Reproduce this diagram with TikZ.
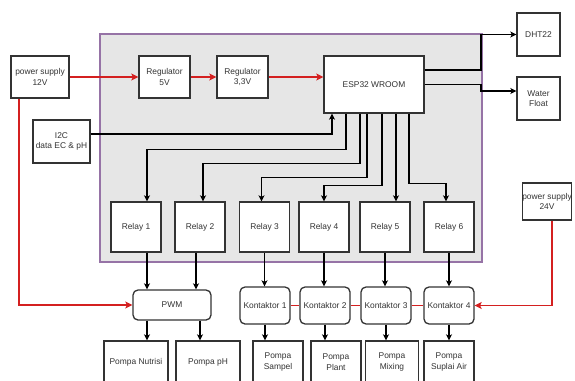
\documentclass[tikz,border=0pt]{standalone}
\usepackage{fontspec}
\setmainfont{Liberation Sans}
\usetikzlibrary{arrows.meta}
\definecolor{boxline}{HTML}{333333}
\definecolor{txt}{HTML}{333333}
\definecolor{pline}{HTML}{9673A6}
\definecolor{pfill}{HTML}{E6E6E6}
\definecolor{rline}{HTML}{D42020}
\begin{document}
\begin{tikzpicture}[x=1pt,y=-1pt,
  box/.style={draw=boxline,line width=1.3pt,fill=white,text=txt,inner sep=0pt,align=center,font=\fontsize{8.4}{10.3}\selectfont},
  rbox/.style={box,rounded corners=5pt},
  arr/.style={draw=black,line width=1.2pt,-{Stealth[length=6pt,width=6pt,inset=1.5pt]}},
  rarr/.style={draw=rline,line width=1.6pt,-{Stealth[length=7pt,width=7pt,inset=1.5pt]}},
  rline/.style={draw=rline,line width=1.6pt}]
\path[use as bounding box] (0,0) rectangle (575,380);
\clip (0,0) rectangle (575,380);
\fill[white] (0,0) rectangle (575,380);
% container
\node[draw=pline,fill=pfill,line width=2.2pt,minimum width=382pt,minimum height=228pt,inner sep=0pt] (ctrl) at (291,148) {};
% nodes
\node[box,minimum width=58pt,minimum height=42pt] (ps12) at (40,77) {power supply\\12V};
\node[box,minimum width=51pt,minimum height=42pt] (reg5) at (164.5,77) {Regulator\\5V};
\node[box,minimum width=51pt,minimum height=42pt] (reg33) at (242.5,77) {Regulator\\3,3V};
\node[box,minimum width=100pt,minimum height=57pt] (esp) at (374,84.5) {ESP32 WROOM};
\node[box,minimum width=43pt,minimum height=43pt] (dht) at (538.5,34.5) {DHT22};
\node[box,minimum width=43pt,minimum height=43pt] (wf) at (538.5,98.5) {Water\\Float};
\node[box,minimum width=57pt,minimum height=43pt] (i2c) at (61.5,141.5) {I2C\\data EC \& pH};
\node[box,minimum width=48pt,minimum height=37pt] (ps24) at (547,201.5) {power supply\\24V};
\foreach \n/\x in {1/136,2/200,3/264.5,4/324,5/385,6/449}
  \node[box,minimum width=50pt,minimum height=50pt] (relay\n) at (\x,227) {Relay \n};
\node[rbox,minimum width=78pt,minimum height=30pt] (pwm) at (172,305) {PWM};
\foreach \n/\x in {1/265,2/325,3/386,4/449}
  \node[rbox,minimum width=50pt,minimum height=37pt] (k\n) at (\x,305.5) {Kontaktor \n};
\node[box,minimum width=64pt,minimum height=42pt] (pn) at (136,362) {Pompa Nutrisi};
\node[box,minimum width=64pt,minimum height=42pt] (pph) at (208,362) {Pompa pH};
\node[box,minimum width=50pt,minimum height=42pt] (psa) at (278,362) {Pompa\\Sampel};
\node[box,minimum width=50pt,minimum height=42pt] (ppl) at (336,362) {Pompa\\Plant};
\node[box,minimum width=53pt,minimum height=42pt] (pmx) at (392,362) {Pompa\\Mixing};
\node[box,minimum width=50pt,minimum height=42pt] (psu) at (449,362) {Pompa\\Suplai Air};
\coordinate (bus) at (481,0);
% red power lines
\draw[rarr] (ps12.east) -- (reg5.west);
\draw[rarr] (reg5.east) -- (reg33.west);
\draw[rarr] (reg33.east) -- (reg33.east -| esp.west);
\draw[rarr] ([xshift=-21pt]ps12.south) |- (pwm.west);
\draw[rarr] ([xshift=5pt]ps24.south) |- (k4.east);
\draw[rline] (k1.east) -- (k2.west);
\draw[rline] (k2.east) -- (k3.west);
\draw[rline] (k3.east) -- (k4.west);
% ESP32 signal lines
\draw[arr] ([yshift=7.5pt]i2c.east) -| ([xshift=-42pt]esp.south);
\draw[arr] ([xshift=-28pt]esp.south) -- ++(0,36) -| ([xshift=11pt]relay1.north);
\draw[arr] ([xshift=-14pt]esp.south) -- ++(0,50) -| ([xshift=3pt]relay2.north);
\draw[arr] ([xshift=-7pt]esp.south) -- ++(0,64) -| ([xshift=-3pt]relay3.north);
\draw[arr] ([xshift=8pt]esp.south) -- ++(0,72) -| (relay4.north);
\draw[arr] ([xshift=22pt]esp.south) -- ([xshift=22pt]esp.south |- relay5.north);
\draw[arr] ([xshift=35pt]esp.south) -- ++(0,70) -| ([xshift=-3pt]relay6.north);
\draw[arr] ([yshift=14.5pt]esp.east) -- ([yshift=14.5pt]esp.east -| bus) |- (dht.west);
\draw[arr] (esp.east) -- (esp.east -| bus) |- ([yshift=7.5pt]wf.west);
% relays down
\draw[arr] ([xshift=11pt]relay1.south) -- ([xshift=11pt]relay1.south |- pwm.north);
\draw[arr] ([xshift=-4pt]relay2.south) -- ([xshift=-4pt]relay2.south |- pwm.north);
\draw[arr] (relay3.south) -- (relay3.south |- k1.north);
\draw[arr] (relay4.south) -- (relay4.south |- k2.north);
\draw[arr] (relay5.south) -- (relay5.south |- k3.north);
\draw[arr] (relay6.south) -- (relay6.south |- k4.north);
% to pumps
\draw[arr] ([xshift=-25pt]pwm.south) -- ([xshift=-25pt]pwm.south |- pn.north);
\draw[arr] ([xshift=28pt]pwm.south) -- ([xshift=28pt]pwm.south |- pph.north);
\draw[arr] (k1.south) -- (k1.south |- psa.north);
\draw[arr] (k2.south) -- (k2.south |- ppl.north);
\draw[arr] (k3.south) -- (k3.south |- pmx.north);
\draw[arr] (k4.south) -- (k4.south |- psu.north);
\end{tikzpicture}
\end{document}
